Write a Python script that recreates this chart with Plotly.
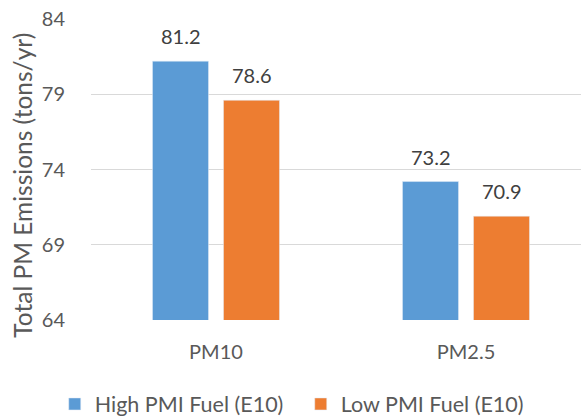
import plotly.graph_objects as go

categories = ["PM10", "PM2.5"]
high_pmi = [81.2, 73.2]
low_pmi = [78.6, 70.9]
series_names = ["High PMI Fuel (E10)", "Low PMI Fuel (E10)"]
y_ticks = [64, 69, 74, 79, 84]

FONT = "Lato"
TXT = "#595959"
BARGAP = 0.432
GROUPGAP = 0.211
X_RANGE = [-0.5, 1.46]

fig = go.Figure()
fig.add_bar(x=categories, y=high_pmi, name=series_names[0], marker_color="#5B9BD5")
fig.add_bar(x=categories, y=low_pmi, name=series_names[1], marker_color="#ED7D31")

# value labels above bars (offset within group: slot = (1-bargap)/2 of a category)
PX_PER_CAT = 490 / (X_RANGE[1] - X_RANGE[0])
slot_px = (1 - BARGAP) / 2 * PX_PER_CAT
for vals, sign in ((high_pmi, -1), (low_pmi, 1)):
    for c, v in zip(categories, vals):
        fig.add_annotation(x=c, y=v, xref="x", yref="y", text=f"{v:.1f}",
                           showarrow=False, xanchor="center", yanchor="bottom",
                           xshift=sign * slot_px / 2, yshift=11,
                           font=dict(size=20, color="#404040", family=FONT))

# y axis title
fig.add_annotation(x=0, y=0.448, xref="paper", yref="paper", xshift=-68.5,
                   text="Total PM Emissions (tons/yr)", textangle=-90, showarrow=False,
                   xanchor="center", yanchor="middle",
                   font=dict(size=24.5, color=TXT, family=FONT))

fig.update_layout(
    width=581, height=416,
    margin=dict(l=91, r=0, t=19, b=96, autoexpand=False),
    paper_bgcolor="white", plot_bgcolor="white",
    barmode="group", bargap=BARGAP, bargroupgap=GROUPGAP,
    font=dict(family=FONT, size=20, color=TXT),
    showlegend=True,
    legend=dict(orientation="h", x=-0.074, xanchor="left", y=-0.279, yanchor="middle",
                font=dict(size=21.5, color=TXT, family=FONT), itemwidth=30,
                entrywidth=201, entrywidthmode="pixels"),
    xaxis=dict(type="category", range=X_RANGE, showgrid=False, showline=False,
               ticks="outside", ticklen=14, tickcolor="rgba(0,0,0,0)",
               tickfont=dict(size=20, color=TXT), automargin=False),
    yaxis=dict(range=[64, 84.001], tickvals=y_ticks, showgrid=True, gridcolor="#D9D9D9",
               gridwidth=1, zeroline=False, showline=False,
               ticks="outside", ticklen=21, tickcolor="rgba(0,0,0,0)",
               ticklabeloverflow="allow",
               tickfont=dict(size=20, color=TXT), automargin=False),
)

fig.write_html("out.html", config={"displayModeBar": False},
               post_script="document.body.style.margin='0';")
